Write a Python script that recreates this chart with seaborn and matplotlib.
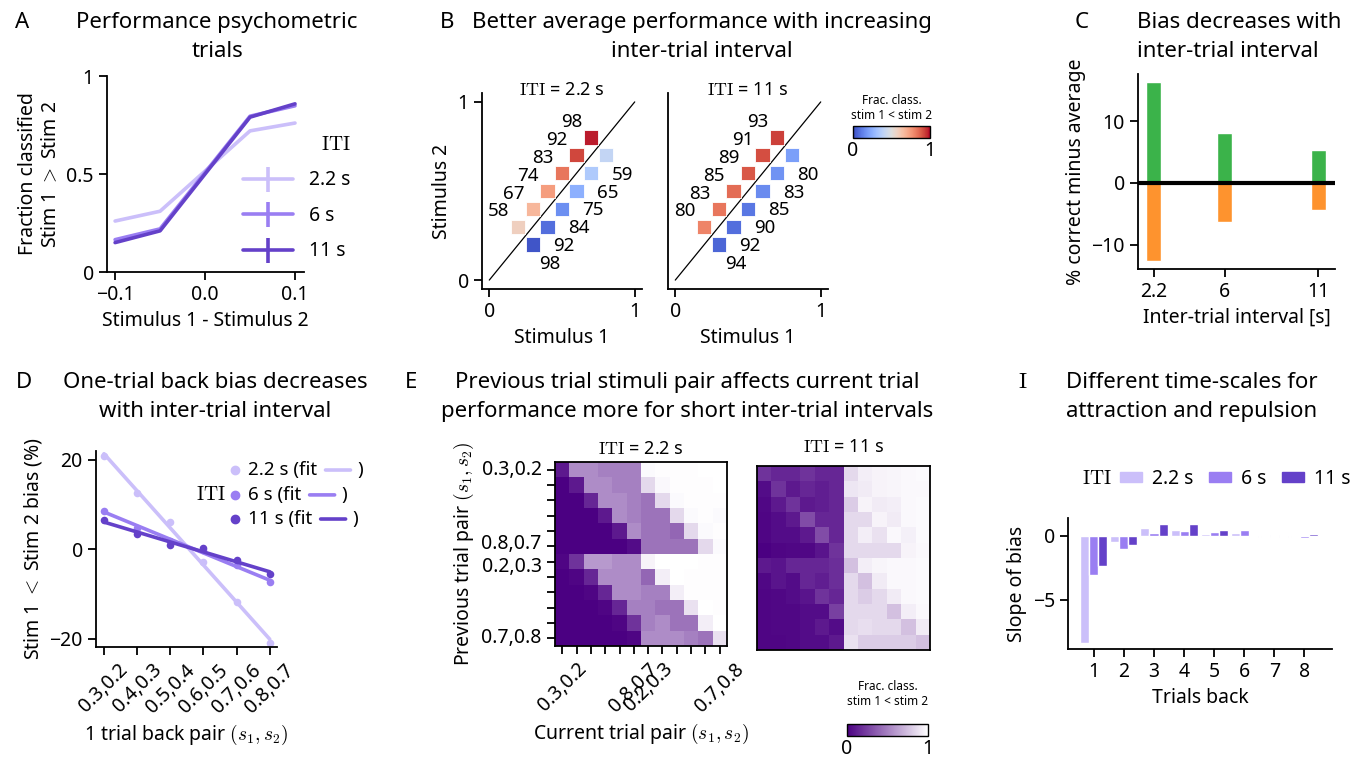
import numpy as np
import pandas as pd
import seaborn as sns
import matplotlib.pyplot as plt
from matplotlib.colors import LinearSegmentedColormap, Normalize
from matplotlib.cm import ScalarMappable
from matplotlib.lines import Line2D
from matplotlib.patches import Patch
from matplotlib.transforms import ScaledTranslation

# values
itis = ['2.2 s', '6 s', '11 s']
iti_colors = ['#cbbffa', '#9a7ef2', '#6441c9']

# A - psychometric curves
stim_diff = [-0.1, -0.05, 0.05, 0.1]
psy_22 = [0.26, 0.31, 0.72, 0.76]
psy_6 = [0.165, 0.22, 0.795, 0.848]
psy_11 = [0.15, 0.21, 0.79, 0.858]

# B - performance per stimulus pair (%)
s1_up = [0.2, 0.3, 0.4, 0.5, 0.6, 0.7]
s2_up = [0.3, 0.4, 0.5, 0.6, 0.7, 0.8]
s1_down = [0.3, 0.4, 0.5, 0.6, 0.7, 0.8]
s2_down = [0.2, 0.3, 0.4, 0.5, 0.6, 0.7]
perf_up_22 = [58, 67, 74, 83, 92, 98]
perf_down_22 = [98, 92, 84, 75, 65, 59]
perf_up_11 = [80, 83, 85, 89, 91, 93]
perf_down_11 = [94, 92, 90, 85, 83, 80]

# C - bias vs ITI
iti_sec = [2.2, 6, 11]
bias_pos = [16.3, 8.1, 5.4]
bias_neg = [-12.6, -6.3, -4.4]

# D - one trial back bias
pair_labels = ['0.3,0.2', '0.4,0.3', '0.5,0.4', '0.6,0.5', '0.7,0.6', '0.8,0.7']
bias_22 = [20.8, 12.5, 6.0, -2.8, -11.8, -21.0]
bias_6 = [8.6, 4.8, 1.9, -0.2, -3.5, -7.4]
bias_11 = [6.5, 3.3, 1.0, 0.2, -2.4, -5.5]

# E - previous pair x current pair
e_xlabels = ['0.3,0.2', '', '', '', '', '0.8,0.7', '0.2,0.3', '', '', '', '', '0.7,0.8']
e_ylabels = ['0.3,0.2', '', '', '', '', '0.8,0.7', '0.2,0.3', '', '', '', '', '0.7,0.8']
heat_22 = [
    [0.10, 0.55, 0.55, 0.50, 0.50, 0.50, 0.98, 0.99, 0.99, 0.99, 1.00, 1.00],
    [0.00, 0.10, 0.55, 0.55, 0.50, 0.50, 0.85, 0.97, 0.99, 0.99, 0.99, 1.00],
    [0.00, 0.00, 0.15, 0.55, 0.55, 0.50, 0.45, 0.85, 0.98, 0.99, 0.99, 0.99],
    [0.00, 0.00, 0.00, 0.10, 0.55, 0.50, 0.45, 0.45, 0.85, 0.98, 0.99, 0.98],
    [0.00, 0.00, 0.00, 0.00, 0.10, 0.55, 0.45, 0.45, 0.40, 0.85, 0.98, 0.99],
    [0.00, 0.00, 0.00, 0.00, 0.00, 0.05, 0.45, 0.45, 0.45, 0.45, 0.85, 0.98],
    [0.02, 0.20, 0.60, 0.60, 0.55, 0.55, 0.95, 1.00, 1.00, 1.00, 0.99, 0.99],
    [0.00, 0.02, 0.15, 0.55, 0.55, 0.55, 0.40, 0.93, 1.00, 0.99, 0.99, 0.99],
    [0.00, 0.00, 0.02, 0.15, 0.55, 0.55, 0.50, 0.50, 0.93, 0.99, 0.99, 0.99],
    [0.00, 0.00, 0.00, 0.02, 0.15, 0.50, 0.50, 0.45, 0.45, 0.88, 1.00, 0.99],
    [0.00, 0.00, 0.00, 0.00, 0.02, 0.20, 0.50, 0.55, 0.45, 0.45, 0.93, 1.00],
    [0.00, 0.00, 0.00, 0.00, 0.00, 0.02, 0.55, 0.55, 0.55, 0.50, 0.45, 0.88],
]
heat_11 = [
    [0.20, 0.15, 0.15, 0.20, 0.15, 0.15, 0.85, 0.93, 0.95, 0.96, 0.97, 0.98],
    [0.05, 0.20, 0.10, 0.15, 0.12, 0.15, 0.90, 0.92, 0.95, 0.96, 0.97, 0.97],
    [0.03, 0.10, 0.20, 0.10, 0.12, 0.15, 0.80, 0.95, 0.92, 0.93, 0.97, 0.98],
    [0.02, 0.05, 0.10, 0.30, 0.15, 0.15, 0.85, 0.85, 0.95, 0.92, 0.97, 0.98],
    [0.02, 0.05, 0.05, 0.10, 0.30, 0.15, 0.85, 0.93, 0.88, 0.97, 0.94, 0.98],
    [0.00, 0.02, 0.03, 0.03, 0.08, 0.20, 0.85, 0.85, 0.85, 0.85, 0.95, 0.97],
    [0.10, 0.08, 0.15, 0.15, 0.15, 0.18, 0.75, 0.93, 0.96, 0.97, 0.97, 0.98],
    [0.03, 0.08, 0.05, 0.15, 0.12, 0.18, 0.85, 0.75, 0.92, 0.97, 0.97, 0.98],
    [0.02, 0.03, 0.05, 0.08, 0.20, 0.15, 0.85, 0.80, 0.85, 0.92, 0.97, 0.98],
    [0.02, 0.03, 0.03, 0.05, 0.05, 0.25, 0.85, 0.85, 0.85, 0.75, 0.93, 0.97],
    [0.02, 0.03, 0.03, 0.05, 0.10, 0.05, 0.85, 0.87, 0.85, 0.85, 0.75, 0.92],
    [0.02, 0.02, 0.03, 0.05, 0.05, 0.10, 0.88, 0.80, 0.80, 0.80, 0.80, 0.75],
]

# I - slope of bias vs trials back
trials_back = [1, 2, 3, 4, 5, 6, 7, 8]
slope_22 = [-8.4, -0.5, 0.6, 0.47, 0.15, 0.23, -0.05, -0.05]
slope_6 = [-3.05, -1.0, 0.23, 0.36, 0.3, 0.47, 0.08, -0.2]
slope_11 = [-2.35, -0.68, 0.94, 0.94, 0.47, -0.08, -0.08, 0.15]

sns.set_theme(style='ticks')
plt.rcParams['font.family'] = ['Noto Sans', 'DejaVu Sans']
plt.rcParams.update({
    'mathtext.fontset': 'cm',
    'axes.linewidth': 1.3,
    'axes.edgecolor': 'black',
    'axes.labelsize': 14,
    'axes.labelcolor': 'black',
    'xtick.labelsize': 14,
    'ytick.labelsize': 14,
    'xtick.major.size': 6,
    'ytick.major.size': 6,
    'xtick.major.width': 1.3,
    'ytick.major.width': 1.3,
    'xtick.color': 'black',
    'ytick.color': 'black',
    'text.color': 'black',
})

W, H = 1367, 759
fig = plt.figure(figsize=(W / 100, H / 100), dpi=100)


def px_axes(l, t, r, b):
    return fig.add_axes([l / W, 1 - b / H, (r - l) / W, (b - t) / H])


ITI = r'$\mathrm{ITI}$'

# titles and panel letters
tkw = dict(fontsize=16, va='center', linespacing=1.45)
fig.text(15 / W, 1 - 22 / H, 'A', **tkw)
fig.text(217 / W, 1 - 37 / H, 'Performance psychometric\ntrials', ha='center', **tkw)
fig.text(440 / W, 1 - 22 / H, 'B', **tkw)
fig.text(702 / W, 1 - 37 / H, 'Better average performance with increasing\ninter-trial interval', ha='center', **tkw)
fig.text(1075 / W, 1 - 22 / H, 'C', **tkw)
fig.text(1137 / W, 1 - 37 / H, 'Bias decreases with\ninter-trial interval', ha='left', **tkw)
fig.text(16 / W, 1 - 382 / H, 'D', **tkw)
fig.text(215 / W, 1 - 397 / H, 'One-trial back bias decreases\nwith inter-trial interval', ha='center', **tkw)
fig.text(405 / W, 1 - 382 / H, 'E', **tkw)
fig.text(687 / W, 1 - 397 / H,
         'Previous trial stimuli pair affects current trial\nperformance more for short inter-trial intervals',
         ha='center', **tkw)
fig.text(1018 / W, 1 - 382 / H, r'$\mathrm{I}$', **tkw)
fig.text(1192 / W, 1 - 397 / H, 'Different time-scales for\nattraction and repulsion', ha='center', **tkw)

# ---------- A ----------
axA = px_axes(107, 76, 304, 272)
for vals, col in zip([psy_22, psy_6, psy_11], iti_colors):
    sns.lineplot(x=stim_diff, y=vals, color=col, lw=2.6, ax=axA)
axA.set_xlim(-0.109, 0.11)
axA.set_ylim(0, 1)
axA.set_xticks([-0.1, 0, 0.1], ['\u22120.1', '0.0', '0.1'])
axA.set_yticks([0, 0.5, 1], ['0', '0.5', '1'])
axA.set_xlabel('Stimulus 1 - Stimulus 2')
axA.set_ylabel('Fraction classified\nStim 1 $>$ Stim 2')
sns.despine(ax=axA)
handlesA = [Line2D([], [], color=c, lw=2.6, marker='|', ms=18, mew=2.6) for c in iti_colors]
axA.legend(handlesA, itis, title=ITI, loc='upper left', bbox_to_anchor=(0.69, 0.70),
           frameon=False, fontsize=14, title_fontsize=14, handlelength=2.6,
           labelspacing=0.8, borderpad=0, borderaxespad=0, alignment='right')


# ---------- B ----------
def stim_panel(ax, perf_up, perf_down, title):
    df = pd.DataFrame({
        's1': s1_up + s1_down,
        's2': s2_up + s2_down,
        'frac': [p / 100 for p in perf_up] + [1 - p / 100 for p in perf_down],
    })
    ax.plot([0, 1], [0, 1], color='black', lw=0.9)
    sns.scatterplot(data=df, x='s1', y='s2', hue='frac', palette='coolwarm', hue_norm=(0, 1),
                    marker='s', s=105, edgecolor='white', linewidth=0.6, legend=False, ax=ax, zorder=3)
    for x, y, p in zip(s1_up, s2_up, perf_up):
        ax.annotate(str(p), (x, y), xytext=(-14, 11), textcoords='offset points',
                    ha='center', va='center', fontsize=13.5)
    for x, y, p in zip(s1_down, s2_down, perf_down):
        ax.annotate(str(p), (x, y), xytext=(12, -14), textcoords='offset points',
                    ha='center', va='center', fontsize=13.5)
    ax.set_xlim(-0.05, 1.05)
    ax.set_ylim(-0.05, 1.05)
    ax.set_xticks([0, 1], ['0', '1'])
    ax.set_xlabel('Stimulus 1')
    ax.text(0.5, 1.015, title, transform=ax.transAxes, ha='center', va='center', fontsize=13)
    sns.despine(ax=ax)


axB1 = px_axes(482, 93, 642, 289)
stim_panel(axB1, perf_up_22, perf_down_22, ITI + ' = 2.2 s')
axB1.set_yticks([0, 1], ['0', '1'])
axB1.set_ylabel('Stimulus 2')
axB2 = px_axes(668, 93, 828, 289)
stim_panel(axB2, perf_up_11, perf_down_11, ITI + ' = 11 s')
axB2.set_yticks([])
axB2.set_ylabel('')

caxB = px_axes(853, 126, 930, 138)
cbB = fig.colorbar(ScalarMappable(Normalize(0, 1), 'coolwarm'), cax=caxB, orientation='horizontal', ticks=[0, 1])
cbB.ax.set_xticklabels(['0', '1'])
cbB.ax.tick_params(length=0, labelsize=14, pad=2)
cbB.outline.set_linewidth(1.0)
caxB.set_title('Frac. class.\nstim 1 < stim 2', fontsize=8.5, pad=5)

# ---------- C ----------
axC = px_axes(1138, 74, 1335, 269)
sns.barplot(x=iti_sec, y=bias_pos, native_scale=True, width=0.8 / 3.8, color='#3bb34a',
            saturation=1, ax=axC)
sns.barplot(x=iti_sec, y=bias_neg, native_scale=True, width=0.8 / 3.8, color='#fe932e',
            saturation=1, ax=axC)
axC.axhline(0, color='black', lw=3)
axC.set_xlim(1.36, 11.9)
axC.set_ylim(-13.9, 17.6)
axC.set_xticks(iti_sec, ['2.2', '6', '11'])
axC.set_yticks([-10, 0, 10], ['\u221210', '0', '10'])
axC.set_xlabel('Inter-trial interval [s]')
axC.set_ylabel('% correct minus average')
sns.despine(ax=axC)

# ---------- D ----------
axD = px_axes(96, 451, 277, 647)
x_idx = np.arange(len(pair_labels))
for vals, col in zip([bias_22, bias_6, bias_11], iti_colors):
    sns.regplot(x=x_idx, y=vals, ci=None, color=col, ax=axD,
                scatter_kws=dict(s=30, linewidths=0, alpha=1), line_kws=dict(lw=2.6))
axD.set_xlim(-0.24, 5.22)
axD.set_ylim(-21.9, 22)
axD.set_xticks(x_idx, pair_labels, rotation=45, ha='center')
axD.set_yticks([-20, 0, 20], ['\u221220', '0', '20'])
axD.set_xlabel('1 trial back pair $(s_1, s_2)$')
axD.set_ylabel('Stim 1 $<$ Stim 2 bias (%)')
sns.despine(ax=axD)
row_y = [0.903, 0.776, 0.653]
for lab, col, y in zip(itis, iti_colors, row_y):
    axD.plot([0.768], [y], 'o', color=col, ms=6, transform=axD.transAxes, clip_on=False)
    t = axD.text(0.84, y, lab + ' (fit', transform=axD.transAxes, va='center', fontsize=13.5)
    axD.annotate('', xy=(1, 0.5), xycoords=t, xytext=(24, 0), textcoords='offset points',
                 arrowprops=dict(arrowstyle='-', color=col, lw=2.6, shrinkA=0, shrinkB=6))
    axD.annotate(')', xy=(1, 0.5), xycoords=t, xytext=(29, 0), textcoords='offset points',
                 ha='left', va='center', fontsize=13.5)
axD.text(0.635, row_y[1], ITI, transform=axD.transAxes, ha='center', va='center', fontsize=14)

# ---------- E ----------
indigo_cmap = LinearSegmentedColormap.from_list('indigo_white', ['#4b0082', '#ffffff'])
axE1 = px_axes(555, 462, 727, 646)
sns.heatmap(np.array(heat_22), cmap=indigo_cmap, vmin=0, vmax=1, cbar=False,
            xticklabels=e_xlabels, yticklabels=e_ylabels, ax=axE1)
axE1.set_xticklabels(e_xlabels, rotation=45, ha='center')
axE1.set_yticklabels(e_ylabels, rotation=0)
axE1.tick_params(length=6, width=1.3)
# nudge the two middle y labels apart a little, as in the reference
ylabs = axE1.get_yticklabels()
ylabs[5].set_transform(ylabs[5].get_transform() + ScaledTranslation(0, 2 / 72, fig.dpi_scale_trans))
ylabs[6].set_transform(ylabs[6].get_transform() + ScaledTranslation(0, -4 / 72, fig.dpi_scale_trans))
axE1.set_xlabel('Current trial pair $(s_1, s_2)$')
axE1.set_ylabel('Previous trial pair $(s_1, s_2)$')
axE1.set_title(ITI + ' = 2.2 s', fontsize=13, pad=6)
axE2 = px_axes(757, 466, 930, 650)
sns.heatmap(np.array(heat_11), cmap=indigo_cmap, vmin=0, vmax=1, cbar=False,
            xticklabels=False, yticklabels=False, ax=axE2)
axE2.set_title(ITI + ' = 11 s', fontsize=13, pad=10)
for ax in (axE1, axE2):
    for sp in ax.spines.values():
        sp.set_visible(True)
        sp.set_color('black')
        sp.set_linewidth(1.3)

caxE = px_axes(847, 724, 928, 736)
cbE = fig.colorbar(ScalarMappable(Normalize(0, 1), indigo_cmap), cax=caxE, orientation='horizontal', ticks=[0, 1])
cbE.ax.set_xticklabels(['0', '1'])
cbE.ax.tick_params(length=0, labelsize=14, pad=2)
cbE.outline.set_linewidth(1.0)
caxE.set_title('Frac. class.\nstim 1 < stim 2', fontsize=8.5, pad=14)

# ---------- I ----------
axI = px_axes(1068, 518, 1332, 649)
dfI = pd.DataFrame({
    'trial': trials_back * 3,
    'slope': slope_22 + slope_6 + slope_11,
    'iti': [itis[0]] * 8 + [itis[1]] * 8 + [itis[2]] * 8,
})
sns.barplot(data=dfI, x='trial', y='slope', hue='iti', hue_order=itis, palette=iti_colors,
            width=0.9, saturation=1, errorbar=None, legend=False, ax=axI)
axI.set_xlim(-0.86, 7.92)
axI.set_ylim(-8.85, 1.4)
axI.set_yticks([-5, 0], ['\u22125', '0'])
axI.set_xlabel('Trials back')
axI.set_ylabel('Slope of bias')
sns.despine(ax=axI)
handlesI = [Patch(color=c) for c in iti_colors]
axI.legend(handlesI, itis, loc='center left', bbox_to_anchor=(0.197, 1.30), ncol=3, frameon=False,
           fontsize=14, handlelength=1.15, handleheight=0.45, handletextpad=0.5, columnspacing=0.8,
           borderpad=0, borderaxespad=0)
axI.text(0.11, 1.30, ITI, transform=axI.transAxes, ha='center', va='center', fontsize=14)

fig.savefig('out.png', dpi=100)
